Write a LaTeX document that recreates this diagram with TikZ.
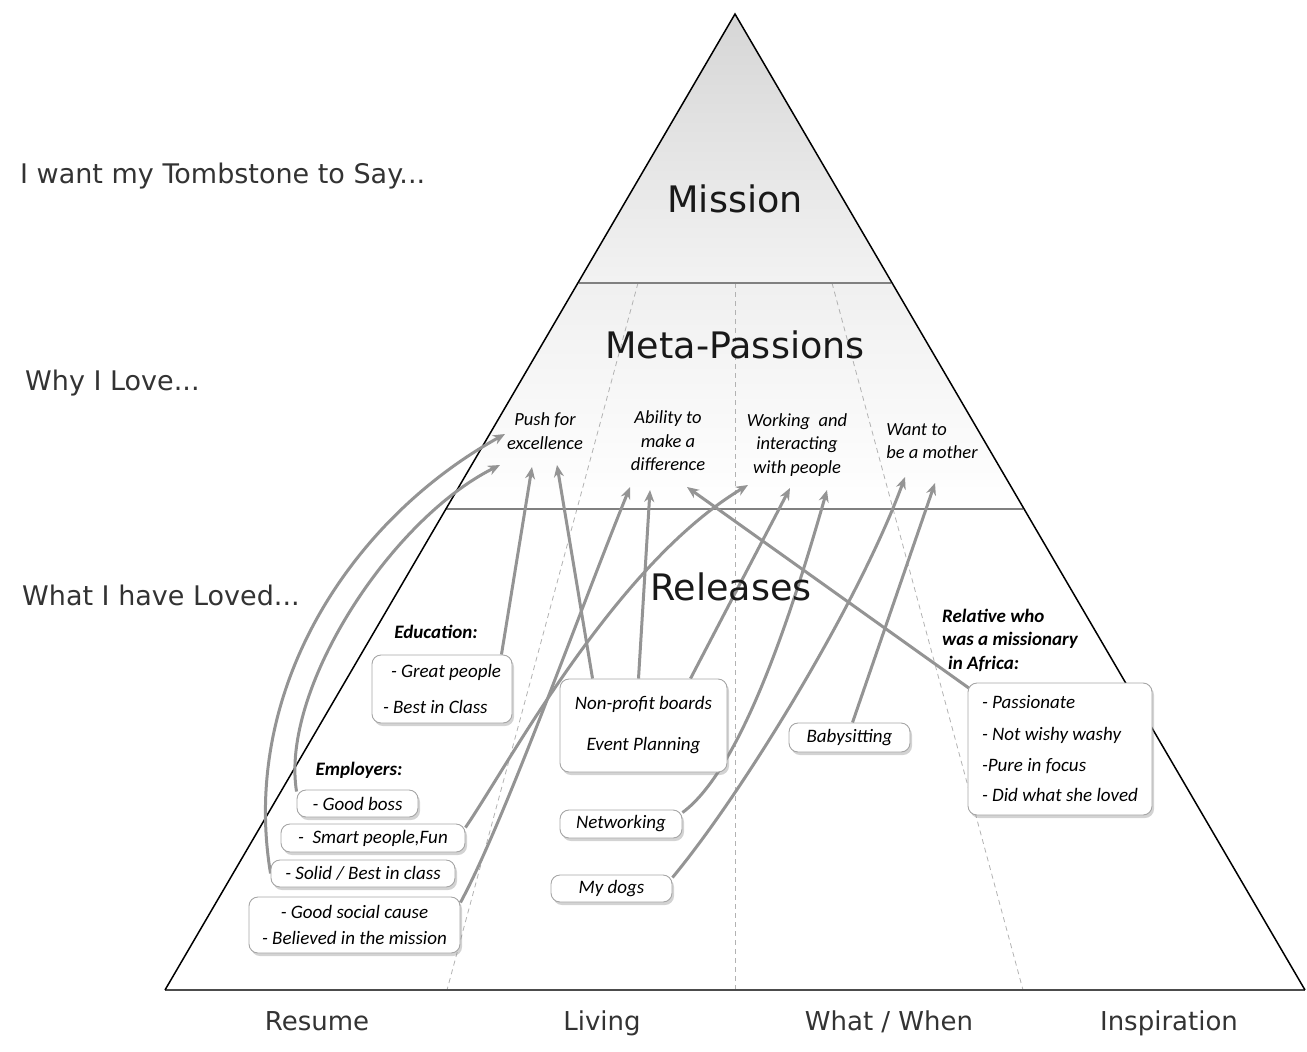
\documentclass[tikz,border=0pt]{standalone}
\usepackage{fontspec}
\setmainfont{DejaVu Sans}
\newfontfamily\notefont{Carlito}
\usetikzlibrary{arrows.meta,shadows,positioning}
\pgfdeclarelayer{under}
\pgfdeclarelayer{links}
\pgfsetlayers{under,links,main}
\tikzset{
	>={Stealth[length=12pt,width=10pt]},
	rowlabel/.style={anchor=base west, inner sep=0pt, text=black!80,
		font=\fontsize{27}{30}\selectfont},
	tierlabel/.style={anchor=base, inner sep=0pt, text=black!90,
		font=\fontsize{36.5}{40}\selectfont},
	collabel/.style={anchor=base, inner sep=0pt, text=black!80,
		font=\fontsize{26}{30}\selectfont},
	passion/.style={align=center, inner sep=0pt, text=black,
		font=\notefont\itshape\fontsize{18.5}{23.5}\selectfont},
	heading/.style={inner sep=0pt,
		font=\notefont\bfseries\itshape\fontsize{19}{23.5}\selectfont},
	release/.style={
		rectangle,
		rounded corners=9pt,
		draw=black!35, line width=0.9pt,
		fill=white,
		drop shadow={shadow xshift=2pt, shadow yshift=-3pt, opacity=0.35},
		inner sep=0pt,
		font=\notefont\itshape\fontsize{19}{23}\selectfont},
	link/.style={draw=black!42, line width=3pt, ->},
	divider/.style={draw=black!50, line width=2.5pt},
	column/.style={draw=black!30, line width=0.8pt, dash pattern=on 5pt off 4pt},
}

\begin{document}
\begin{tikzpicture}[x=1pt, y=-1pt]
\useasboundingbox (0,0) rectangle (1307,1052);

% pyramid
\begin{pgfonlayer}{under}
	\shade[top color=black!16, bottom color=black!5] (735,14) -- (891,283) -- (579,283) -- cycle;
	\shade[top color=black!6, bottom color=white] (579,283) -- (891,283) -- (1023,509) -- (446,509) -- cycle;
	\draw[column] (638,283) -- (447,990);
	\draw[column] (735,283) -- (735,990);
	\draw[column] (832,283) -- (1023,990);
	\draw[divider] (579,283) -- (891,283);
	\draw[divider] (446,509) -- (1023,509);
	\draw[draw=black!70, line width=2.5pt] (165,990) -- (1305,990);
	\draw[line width=1.5pt, line join=miter] (165,990) -- (735,14) -- (1305,990);
\end{pgfonlayer}

\node[rowlabel] (say) at (20,183) {I want my Tombstone to Say...};
\node[rowlabel] (why) at (25,390) {Why I Love...};
\node[rowlabel] (what) at (22,605) {What I have Loved...};

\node[tierlabel] (mission) at (735,212) {Mission};
\node[tierlabel] (meta) at (735,358) {Meta-Passions};
\node[tierlabel] (releases) at (731,600) {Releases};

\node[collabel] (resume) at (317,1030) {Resume};
\node[collabel] (living) at (602,1030) {Living};
\node[collabel] (whatwhen) at (889,1030) {What / When};
\node[collabel] (inspire) at (1169,1030) {Inspiration};

% meta-passions
\node[passion] (push) at (545,431) {Push for\\excellence};
\node[passion] (able) at (668,441) {Ability to\\make a\\difference};
\node[passion] (work) at (797,445) {Working~ and\\interacting\\with people};
\node[passion, align=left] (mom) at (932,441) {Want to\\be a mother};

% releases
\node[heading] (eduhead) at (436,632) {Education:};
\node[release, minimum width=140pt, minimum height=68pt, align=left] (edu) at (442,689)
	{\hspace*{8pt}- Great people\\[13pt]- Best in Class};
\node[heading] (emphead) at (359,770) {Employers:};
\node[release, minimum width=121pt, minimum height=27pt] (boss) at (357.5,803.5) {- Good boss};
\node[release, minimum width=184pt, minimum height=28pt] (smart) at (373,838) {-~~Smart people,Fun};
\node[release, minimum width=184pt, minimum height=27pt] (solid) at (363,873.5) {- Solid / Best in class};
\node[release, minimum width=211pt, minimum height=56pt, align=center] (cause) at (354.5,925)
	{- Good social cause\\[3pt]- Believed in the mission};
\node[release, minimum width=167pt, minimum height=93pt, align=center] (board) at (643.5,725.5)
	{Non-profit boards\\[18pt]Event Planning};
\node[release, minimum width=122pt, minimum height=28pt] (net) at (621,824) {Networking};
\node[release, minimum width=121pt, minimum height=27pt] (dogs) at (611.5,888.5) {My dogs};
\node[release, minimum width=121pt, minimum height=29pt] (baby) at (849.5,737.5) {Babysitting};
\node[heading, anchor=west, align=left] (aunthead) at (942,640)
	{Relative who\\was a missionary\\\hspace*{6pt}in Africa:};
\node[release, minimum width=184pt, minimum height=132pt, align=left] (aunt) at (1060,749)
	{- Passionate\\[9pt]- Not wishy washy\\[8pt]-Pure in focus\\[7pt]- Did what she loved};

% arrow tips under the meta-passions
\coordinate (push-a) at (505,434);
\coordinate (push-b) at (500,465);
\coordinate (push-c) at (532,467);
\coordinate (push-d) at (557,465);
\coordinate (diff-a) at (630,487);
\coordinate (diff-b) at (650,490);
\coordinate (diff-c) at (687,487);
\coordinate (work-a) at (748,485);
\coordinate (work-b) at (790,488);
\coordinate (work-c) at (827,490);
\coordinate (mom-a) at (905,477);
\coordinate (mom-b) at (935,483);

\begin{pgfonlayer}{links}
	\draw[link] (solid.west) .. controls (240,690) and (350,520) .. (push-a);
	\draw[link] ([yshift=-2pt]boss.north west) .. controls (280,690) and (390,520) .. (push-b);
	\draw[link] ([xshift=-11pt]edu.north east) -- (push-c);
	\draw[link] ([xshift=33pt]board.north west) -- (push-d);
	\draw[link] ([yshift=-6pt]cause.north east) .. controls (505,820) and (580,610) .. (diff-a);
	\draw[link] ([xshift=-5pt]board.north) -- (diff-b);
	\draw[link] ([xshift=2pt,yshift=-6pt]aunt.north west) -- (diff-c);
	\draw[link] ([yshift=-4pt]smart.north east) .. controls (510,762) and (615,565) .. (work-a);
	\draw[link] ([xshift=47pt]board.north) -- (work-b);
	\draw[link] ([yshift=-3pt]net.north east) .. controls (740,770) and (790,620) .. (work-c);
	\draw[link] ([yshift=-3pt]dogs.north east) .. controls (745,790) and (860,600) .. (mom-a);
	\draw[link] ([xshift=3pt]baby.north) -- (mom-b);
\end{pgfonlayer}
\end{tikzpicture}
\end{document}
